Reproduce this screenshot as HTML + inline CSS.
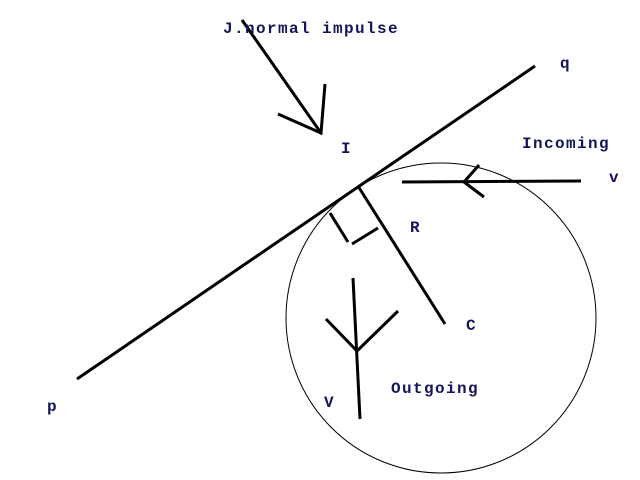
<!DOCTYPE html>
<html><head><meta charset="utf-8"><style>
html,body{margin:0;padding:0;background:#fff;}
svg{display:block;}
text{font-family:"Liberation Mono",monospace;font-weight:bold;font-size:16px;letter-spacing:1.4px;fill:#14145a;}
</style></head><body>
<svg width="640" height="480" viewBox="0 0 640 480">
<ellipse cx="441" cy="318" rx="155" ry="155" fill="none" stroke="#000" stroke-width="1"/>
<g stroke="#000" stroke-width="3" fill="none" stroke-linecap="butt">
<line x1="77" y1="379" x2="535" y2="66"/>
<g>
<line x1="242" y1="20" x2="321" y2="133"/>
<polyline points="278,114 321,133 325,84"/>
</g>
<g>
<line x1="402" y1="182" x2="581" y2="181"/>
<polyline points="479,165 464,182 484,197"/>
</g>
<line x1="358" y1="186" x2="445" y2="324"/>
<g>
<line x1="330" y1="213" x2="348" y2="242"/>
<line x1="352" y1="244" x2="378" y2="228"/>
</g>
<g>
<line x1="353" y1="278" x2="360" y2="419"/>
<polyline points="326,319 357,351 398,311"/>
</g>
</g>
<text x="223" y="33">J.normal impulse</text>
<text x="560" y="68">q</text>
<text x="341" y="153">I</text>
<text x="522" y="148">Incoming</text>
<text x="609" y="182">v</text>
<text x="410" y="232">R</text>
<text x="466" y="330">C</text>
<text x="391" y="393">Outgoing</text>
<text x="324" y="407">V</text>
<text x="47" y="411">p</text>
</svg>
</body></html>
